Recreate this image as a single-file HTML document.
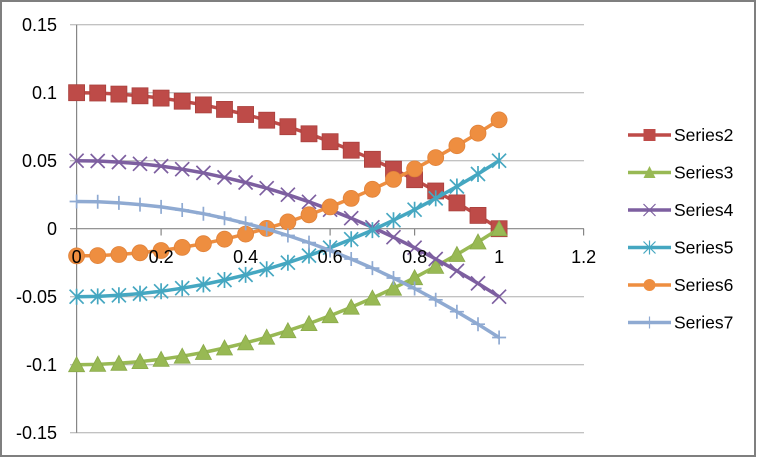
<!DOCTYPE html>
<html><head><meta charset="utf-8"><style>
html,body{margin:0;padding:0;background:#fff;}
svg{display:block;}
text{font-family:"Liberation Sans",Arial,sans-serif;fill:#000;}
</style></head><body>
<svg width="757" height="457" viewBox="0 0 757 457" xmlns="http://www.w3.org/2000/svg">
<defs>
<marker id="m2" markerUnits="userSpaceOnUse" markerWidth="20" markerHeight="20" refX="10" refY="10" overflow="visible"><rect x="2" y="2" width="16" height="16" fill="#BE4B48" stroke="#A9403D" stroke-width="0.8"/></marker>
<marker id="m3" markerUnits="userSpaceOnUse" markerWidth="20" markerHeight="20" refX="10" refY="10" overflow="visible"><polygon points="10,2 18,17 2,17" fill="#98B954" stroke="#8AAA4A" stroke-width="0.8"/></marker>
<marker id="m4" markerUnits="userSpaceOnUse" markerWidth="20" markerHeight="20" refX="10" refY="10" overflow="visible"><path d="M3,3 L17,17 M17,3 L3,17" stroke="#7D5FA0" stroke-width="1.7" fill="none"/></marker>
<marker id="m5" markerUnits="userSpaceOnUse" markerWidth="20" markerHeight="20" refX="10" refY="10" overflow="visible"><path d="M3,3 L17,17 M17,3 L3,17 M10,2 L10,18" stroke="#45A7C1" stroke-width="1.7" fill="none"/></marker>
<marker id="m6" markerUnits="userSpaceOnUse" markerWidth="20" markerHeight="20" refX="10" refY="10" overflow="visible"><circle cx="10" cy="10" r="8" fill="#EE8E40" stroke="#E0823A" stroke-width="0.8"/></marker>
<marker id="m7" markerUnits="userSpaceOnUse" markerWidth="20" markerHeight="20" refX="10" refY="10" overflow="visible"><path d="M10,3 L10,17 M3,10 L17,10" stroke="#8FAAD2" stroke-width="1.7" fill="none"/></marker>
</defs>
<rect x="0" y="0" width="757" height="457" fill="#fff"/>
<rect x="1" y="1" width="754" height="455" fill="none" stroke="#7F7F7F" stroke-width="2"/>

<g stroke="#ADADAD" stroke-width="1">
<line x1="70" y1="24.7" x2="584" y2="24.7"/>
<line x1="70" y1="92.7" x2="584" y2="92.7"/>
<line x1="70" y1="160.7" x2="584" y2="160.7"/>
<line x1="70" y1="296.7" x2="584" y2="296.7"/>
<line x1="70" y1="364.7" x2="584" y2="364.7"/>
<line x1="70" y1="432.7" x2="584" y2="432.7"/>
</g>
<g stroke="#868686" stroke-width="1.2">
<line x1="70" y1="228.7" x2="584" y2="228.7"/>
<line x1="76.6" y1="24.7" x2="76.6" y2="432.7"/>
<line x1="161.1" y1="228.7" x2="161.1" y2="235.5"/>
<line x1="245.6" y1="228.7" x2="245.6" y2="235.5"/>
<line x1="330.1" y1="228.7" x2="330.1" y2="235.5"/>
<line x1="414.6" y1="228.7" x2="414.6" y2="235.5"/>
<line x1="499.1" y1="228.7" x2="499.1" y2="235.5"/>
<line x1="583.6" y1="228.7" x2="583.6" y2="235.5"/>
</g>

<g fill="none" stroke-width="3.5" stroke-linejoin="round">
<polyline stroke="#BE4B48" marker-start="url(#m2)" marker-mid="url(#m2)" marker-end="url(#m2)" points="76.6,92.7 97.7,93.0 118.9,94.1 140.0,95.8 161.1,98.1 182.2,101.2 203.4,104.9 224.5,109.4 245.6,114.5 266.7,120.2 287.9,126.7 309.0,133.8 330.1,141.7 351.2,150.2 372.4,159.3 393.5,169.2 414.6,179.7 435.7,191.0 456.9,202.9 478.0,215.4 499.1,228.7"/>
<polyline stroke="#98B954" marker-start="url(#m3)" marker-mid="url(#m3)" marker-end="url(#m3)" points="76.6,364.7 97.7,364.4 118.9,363.3 140.0,361.6 161.1,359.3 182.2,356.2 203.4,352.5 224.5,348.0 245.6,342.9 266.7,337.2 287.9,330.7 309.0,323.6 330.1,315.7 351.2,307.2 372.4,298.1 393.5,288.2 414.6,277.7 435.7,266.4 456.9,254.5 478.0,242.0 499.1,228.7"/>
<polyline stroke="#7D5FA0" marker-start="url(#m4)" marker-mid="url(#m4)" marker-end="url(#m4)" points="76.6,160.7 97.7,161.0 118.9,162.1 140.0,163.8 161.1,166.1 182.2,169.2 203.4,172.9 224.5,177.4 245.6,182.5 266.7,188.2 287.9,194.7 309.0,201.8 330.1,209.7 351.2,218.2 372.4,227.3 393.5,237.2 414.6,247.7 435.7,259.0 456.9,270.9 478.0,283.4 499.1,296.7"/>
<polyline stroke="#45A7C1" marker-start="url(#m5)" marker-mid="url(#m5)" marker-end="url(#m5)" points="76.6,296.7 97.7,296.4 118.9,295.3 140.0,293.6 161.1,291.3 182.2,288.2 203.4,284.5 224.5,280.0 245.6,274.9 266.7,269.2 287.9,262.7 309.0,255.6 330.1,247.7 351.2,239.2 372.4,230.1 393.5,220.2 414.6,209.7 435.7,198.4 456.9,186.5 478.0,174.0 499.1,160.7"/>
<polyline stroke="#EE8E40" marker-start="url(#m6)" marker-mid="url(#m6)" marker-end="url(#m6)" points="76.6,255.9 97.7,255.6 118.9,254.5 140.0,252.8 161.1,250.5 182.2,247.4 203.4,243.7 224.5,239.2 245.6,234.1 266.7,228.4 287.9,221.9 309.0,214.8 330.1,206.9 351.2,198.4 372.4,189.3 393.5,179.4 414.6,168.9 435.7,157.6 456.9,145.7 478.0,133.2 499.1,119.9"/>
<polyline stroke="#8FAAD2" marker-start="url(#m7)" marker-mid="url(#m7)" marker-end="url(#m7)" points="76.6,201.5 97.7,201.8 118.9,202.9 140.0,204.6 161.1,206.9 182.2,210.0 203.4,213.7 224.5,218.2 245.6,223.3 266.7,229.0 287.9,235.5 309.0,242.6 330.1,250.5 351.2,259.0 372.4,268.1 393.5,278.0 414.6,288.5 435.7,299.8 456.9,311.7 478.0,324.2 499.1,337.5"/>
</g>

<g font-size="18" text-anchor="end">
<text x="57" y="31">0.15</text>
<text x="57" y="99">0.1</text>
<text x="57" y="167">0.05</text>
<text x="57" y="235">0</text>
<text x="57" y="303">-0.05</text>
<text x="57" y="371">-0.1</text>
<text x="57" y="439">-0.15</text>
</g>
<g font-size="18" text-anchor="middle">
<text x="76.6" y="263">0</text>
<text x="161.1" y="263">0.2</text>
<text x="245.6" y="263">0.4</text>
<text x="330.1" y="263">0.6</text>
<text x="414.6" y="263">0.8</text>
<text x="499.1" y="263">1</text>
<text x="583.6" y="263">1.2</text>
</g>

<g stroke-width="3.5" fill="none">
<line x1="628" y1="135" x2="671" y2="135" stroke="#BE4B48"/>
<line x1="628" y1="172.5" x2="671" y2="172.5" stroke="#98B954"/>
<line x1="628" y1="210" x2="671" y2="210" stroke="#7D5FA0"/>
<line x1="628" y1="247.5" x2="671" y2="247.5" stroke="#45A7C1"/>
<line x1="628" y1="285" x2="671" y2="285" stroke="#EE8E40"/>
<line x1="628" y1="322.5" x2="671" y2="322.5" stroke="#8FAAD2"/>
</g>
<rect x="643.5" y="129" width="12" height="12" fill="#BE4B48"/>
<polygon points="649.5,166 655.5,178 643.5,178" fill="#98B954"/>
<path d="M643.5,204 L655.5,216 M655.5,204 L643.5,216" stroke="#7D5FA0" stroke-width="1.2"/>
<path d="M643.5,241.5 L655.5,253.5 M655.5,241.5 L643.5,253.5 M649.5,240.5 L649.5,254.5" stroke="#45A7C1" stroke-width="1.2"/>
<circle cx="649.5" cy="285" r="6" fill="#EE8E40"/>
<path d="M649.5,316.5 L649.5,328.5" stroke="#8FAAD2" stroke-width="1.2"/>
<g font-size="17.5">
<text x="674" y="141">Series2</text>
<text x="674" y="178.5">Series3</text>
<text x="674" y="216">Series4</text>
<text x="674" y="253.5">Series5</text>
<text x="674" y="291">Series6</text>
<text x="674" y="328.5">Series7</text>
</g>
</svg>
</body></html>
